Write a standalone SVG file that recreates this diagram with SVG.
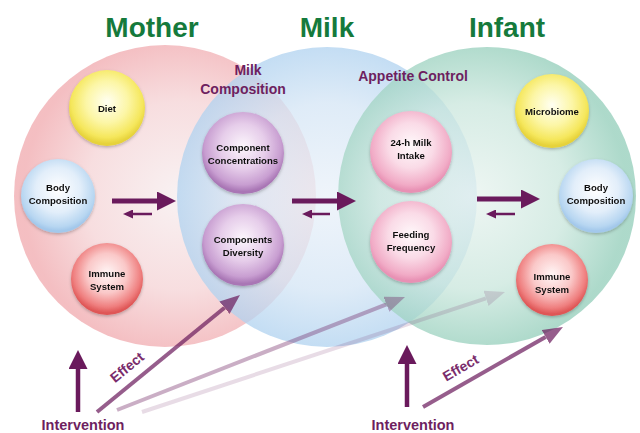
<svg xmlns="http://www.w3.org/2000/svg" width="640" height="433" viewBox="0 0 640 433">
<style>
.title{font-family:"Liberation Sans",Arial,sans-serif;font-weight:bold;font-size:28px;fill:#157a3c;text-anchor:middle}
.sub{font-family:"Liberation Sans",Arial,sans-serif;font-weight:bold;font-size:14px;fill:#6e1f60;text-anchor:middle}
.lbl{font-family:"Liberation Sans",Arial,sans-serif;font-weight:bold;font-size:9.6px;fill:#111;text-anchor:middle}
.eff{font-family:"Liberation Sans",Arial,sans-serif;font-weight:bold;font-size:14px;fill:#7a2c6c;text-anchor:middle}
.int{font-family:"Liberation Sans",Arial,sans-serif;font-weight:bold;font-size:14.5px;fill:#6e1f60;text-anchor:middle}
.big{stroke:#6a1a5c;stroke-width:5;fill:none}
.small{stroke:#6a1a5c;stroke-width:2.5;fill:none}
.up{stroke:#6a1a5c;stroke-width:4.5;fill:none}
.effl{stroke:#6a1a5c;stroke-width:4;fill:none}
.node{filter:url(#sh)}
</style>
<defs>
<filter id="sh" x="-20%" y="-20%" width="140%" height="150%"><feDropShadow dx="0" dy="1.5" stdDeviation="1.5" flood-color="#000" flood-opacity="0.25"/></filter>
<radialGradient id="gM" cx="55%" cy="50%" r="52%"><stop offset="0" stop-color="#f7eff0"/><stop offset="0.6" stop-color="#f6d8da"/><stop offset="1" stop-color="#f2b3b7"/></radialGradient>
<radialGradient id="gK" cx="50%" cy="50%" r="52%"><stop offset="0" stop-color="#eaf1f9"/><stop offset="0.6" stop-color="#d4e5f5"/><stop offset="1" stop-color="#acd0ef"/></radialGradient>
<radialGradient id="gI" cx="45%" cy="50%" r="52%"><stop offset="0" stop-color="#e8f3ef"/><stop offset="0.6" stop-color="#c9e6dc"/><stop offset="1" stop-color="#92cdb9"/></radialGradient>
<radialGradient id="nY" cx="50%" cy="42%" r="55%"><stop offset="0" stop-color="#fffff2"/><stop offset="0.5" stop-color="#fcf6a6"/><stop offset="0.85" stop-color="#f5e75c"/><stop offset="1" stop-color="#e6d23a"/></radialGradient>
<radialGradient id="nB" cx="50%" cy="42%" r="55%"><stop offset="0" stop-color="#ffffff"/><stop offset="0.55" stop-color="#e2eefa"/><stop offset="0.9" stop-color="#b7d6f1"/><stop offset="1" stop-color="#a3c8eb"/></radialGradient>
<radialGradient id="nR" cx="50%" cy="42%" r="55%"><stop offset="0" stop-color="#fff6f6"/><stop offset="0.5" stop-color="#fac8c8"/><stop offset="0.85" stop-color="#ef7f7f"/><stop offset="1" stop-color="#df5656"/></radialGradient>
<radialGradient id="nP" cx="50%" cy="42%" r="55%"><stop offset="0" stop-color="#fcf6fc"/><stop offset="0.5" stop-color="#e6cdea"/><stop offset="0.85" stop-color="#c89ed1"/><stop offset="1" stop-color="#a976b5"/></radialGradient>
<radialGradient id="nK" cx="50%" cy="42%" r="55%"><stop offset="0" stop-color="#fff9fb"/><stop offset="0.5" stop-color="#fadbe7"/><stop offset="0.88" stop-color="#f1abc6"/><stop offset="1" stop-color="#e891b4"/></radialGradient>
<marker id="hBig" viewBox="0 0 19 19" markerWidth="19" markerHeight="19" refX="0" refY="9.5" orient="auto" markerUnits="userSpaceOnUse"><path d="M0,0 L19,9.5 L0,19 z" fill="#6a1a5c"/></marker>
<marker id="hSmall" viewBox="0 0 10 9" markerWidth="10" markerHeight="9" refX="0" refY="4.5" orient="auto" markerUnits="userSpaceOnUse"><path d="M0,0 L10,4.5 L0,9 z" fill="#6a1a5c"/></marker>
<marker id="hEff" viewBox="0 0 20 16" markerWidth="20" markerHeight="16" refX="0" refY="8" orient="auto" markerUnits="userSpaceOnUse"><path d="M0,0 L20,8 L0,16 z" fill="#6a1a5c"/></marker>
</defs>
<rect width="640" height="433" fill="#fff"/>

<g id="titles">
<text class="title" x="152" y="37">Mother</text>
<text class="title" x="327" y="37">Milk</text>
<text class="title" x="507" y="37">Infant</text>
</g>

<g id="mother"><circle cx="165" cy="196" r="151" fill="url(#gM)" opacity="0.85"/></g>
<g id="milk"><circle cx="327" cy="197" r="150" fill="url(#gK)" opacity="0.75"/></g>
<g id="infant"><circle cx="487" cy="196" r="149" fill="url(#gI)" opacity="0.75"/></g>

<g id="milk-composition-label"><text class="sub" x="248" y="75">Milk</text><text class="sub" x="243" y="94">Composition</text></g>
<g id="appetite-control-label"><text class="sub" x="413" y="81">Appetite Control</text></g>

<g id="diet" class="node"><circle cx="107" cy="108" r="38" fill="url(#nY)"/><text class="lbl" x="107" y="112">Diet</text></g>
<g id="mother-body" class="node"><circle cx="58" cy="196" r="37" fill="url(#nB)"/><text class="lbl" x="58" y="191">Body</text><text class="lbl" x="58" y="204">Composition</text></g>
<g id="mother-immune" class="node"><circle cx="107" cy="279" r="36" fill="url(#nR)"/><text class="lbl" x="107" y="277">Immune</text><text class="lbl" x="107" y="290">System</text></g>

<g id="component-concentrations" class="node"><circle cx="243" cy="153" r="41" fill="url(#nP)"/><text class="lbl" x="243" y="151">Component</text><text class="lbl" x="243" y="164">Concentrations</text></g>
<g id="components-diversity" class="node"><circle cx="243" cy="245" r="41" fill="url(#nP)"/><text class="lbl" x="243" y="243">Components</text><text class="lbl" x="243" y="256">Diversity</text></g>

<g id="milk-intake" class="node"><circle cx="411" cy="152" r="41" fill="url(#nK)"/><text class="lbl" x="411" y="146">24-h Milk</text><text class="lbl" x="411" y="159">Intake</text></g>
<g id="feeding-frequency" class="node"><circle cx="411" cy="242" r="41" fill="url(#nK)"/><text class="lbl" x="411" y="238">Feeding</text><text class="lbl" x="411" y="251">Frequency</text></g>

<g id="microbiome" class="node"><circle cx="552" cy="111" r="37" fill="url(#nY)"/><text class="lbl" x="552" y="115">Microbiome</text></g>
<g id="infant-body" class="node"><circle cx="596" cy="196" r="37" fill="url(#nB)"/><text class="lbl" x="596" y="191">Body</text><text class="lbl" x="596" y="204">Composition</text></g>
<g id="infant-immune" class="node"><circle cx="552" cy="280" r="36" fill="url(#nR)"/><text class="lbl" x="552" y="280">Immune</text><text class="lbl" x="552" y="293">System</text></g>

<g id="connectors">
<line class="big" x1="112" y1="201" x2="157" y2="201" marker-end="url(#hBig)"/>
<line class="small" x1="152" y1="214" x2="133" y2="214" marker-end="url(#hSmall)"/>
<line class="big" x1="292" y1="201" x2="337" y2="201" marker-end="url(#hBig)"/>
<line class="small" x1="330" y1="214" x2="312" y2="214" marker-end="url(#hSmall)"/>
<line class="big" x1="477" y1="199" x2="521" y2="199" marker-end="url(#hBig)"/>
<line class="small" x1="515" y1="214" x2="496" y2="214" marker-end="url(#hSmall)"/>
<line class="up" x1="78" y1="412" x2="78" y2="369" marker-end="url(#hBig)"/>
<line class="up" x1="407" y1="407" x2="407" y2="364" marker-end="url(#hBig)"/>
<g opacity="0.7"><line class="effl" x1="97" y1="412" x2="224.5" y2="307.7" marker-end="url(#hEff)"/></g>
<g opacity="0.35"><line class="effl" x1="117" y1="410" x2="386.4" y2="304.3" marker-end="url(#hEff)"/></g>
<g opacity="0.15"><line class="effl" x1="142" y1="412" x2="486" y2="298.3" marker-end="url(#hEff)"/></g>
<g opacity="0.7"><line class="effl" x1="423" y1="407" x2="545.6" y2="336.9" marker-end="url(#hEff)"/></g>
<text class="eff" transform="translate(130 371) rotate(-39)">Effect</text>
<text class="eff" transform="translate(463 372) rotate(-30)">Effect</text>
</g>

<g id="intervention-labels">
<text class="int" x="83" y="430">Intervention</text>
<text class="int" x="413" y="430">Intervention</text>
</g>
</svg>
